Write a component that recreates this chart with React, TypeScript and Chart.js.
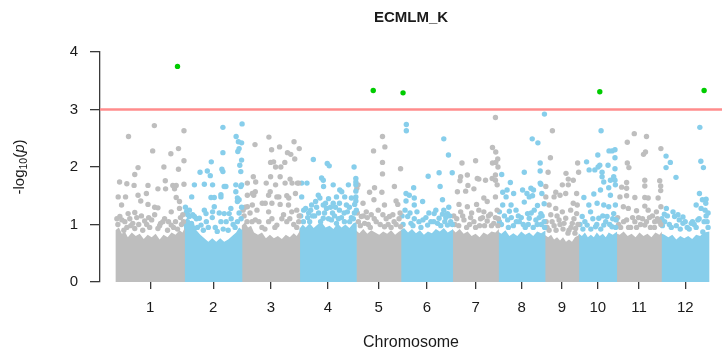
import React, { useEffect, useRef } from "react";
import { Chart, registerables } from "chart.js";

Chart.register(...registerables);

// ---------- text ----------
const chartTitle = "ECMLM_K";
const xAxisTitle = "Chromosome";

// ---------- axes ----------
const chromosomeLabels = ["1", "2", "3", "4", "5", "6", "7", "8", "9", "10", "11", "12"];
const chromosomeLengths = [69, 58, 58, 57, 45, 52, 46, 47, 34, 38, 45, 48];
const yTickValues = [0, 1, 2, 3, 4];
const xAxisMin = -16;
const xAxisMax = 610;
const yAxisMin = 0;
const yAxisMax = 4;
const thresholdValue = 3;

// ---------- significant SNPs (above threshold) ----------
const sigChromosome = [1, 5, 6, 10, 12];
const sigPosition = [62, 17, 2, 21, 43];
const sigLogP = [3.75, 3.33, 3.29, 3.31, 3.33];

// ---------- SNPs: [position within chromosome, -log10(p)] ----------
const chr1Points = [
  [12.7, 2.53], [38.7, 2.72], [68.5, 2.63], [37, 2.28], [55.3, 2.23], [63, 2.32], [19, 1.87], [22.3, 1.99],
  [48.3, 2.0], [63, 1.96], [68.5, 2.11], [3.7, 1.74], [11, 1.71], [18.3, 1.68], [32.3, 1.68], [49.7, 1.76],
  [57.3, 1.68], [60.7, 1.68], [68.5, 1.7], [2.3, 1.48], [9.7, 1.48], [22.3, 1.51], [30.7, 1.54], [42.3, 1.62],
  [50, 1.62], [59, 1.62], [60.7, 1.47], [64, 1.4], [25, 1.41], [32.3, 1.35], [39, 1.3], [42.3, 1.29],
  [4, 1.14], [12.3, 1.19], [19, 1.21], [25.7, 1.15], [9, 1.05], [29, 1.06], [39, 1.17], [47.3, 1.05],
  [55.7, 1.22], [64, 1.28], [67.3, 1.17], [19, 0.93], [42.3, 0.93], [55.7, 0.99], [5.7, 1.34], [2, 1.0],
  [15, 0.98], [34, 0.95], [45, 1.02], [52, 0.9], [60, 1.05], [66, 1.0], [8, 0.9], [27, 0.9], [62, 0.92],
  [1, 1.1], [6, 1.08], [11, 0.95], [14, 1.1], [17, 1.02], [23, 1.0], [31, 1.0], [36, 1.08],
  [44, 0.98], [49, 1.1], [53, 1.05], [58, 0.95], [65, 1.12], [68, 1.05], [21, 1.12], [33, 1.12],
];
const chr2Points = [
  [38.7, 2.69], [58, 2.75], [52, 2.53], [54.3, 2.44], [57.5, 2.42], [38.7, 2.25], [53.7, 2.27], [55, 2.32],
  [27, 2.09], [57.5, 2.12], [55.7, 2.03], [15.7, 1.91], [23, 1.93], [26, 1.85], [37.7, 1.96], [38.7, 1.92],
  [56.7, 1.92], [10, 1.69], [20, 1.7], [40, 1.66], [51.7, 1.69], [56.7, 1.66], [7.3, 1.48], [26.7, 1.47],
  [30, 1.47], [36.7, 1.52], [51.7, 1.57], [53.3, 1.46], [20, 1.25], [30, 1.31], [40, 1.19], [46.7, 1.28],
  [8.3, 1.17], [3.3, 1.17], [16.7, 0.99], [36.7, 1.05], [53.3, 1.05], [2, 1.22], [5, 1.25], [12, 1.1],
  [24, 0.95], [44, 0.9], [49, 1.0], [57, 1.1], [33, 0.88], [28, 1.12], [28.3, 1.69], [41.7, 1.66],
  [57.5, 1.69], [36.7, 1.48], [53.3, 1.4], [55, 1.43], [5, 1.14], [10, 1.14], [15, 1.11], [21.7, 1.19],
  [28.3, 1.22], [45, 1.19], [1, 1.3], [3, 1.05], [7, 1.02], [13, 0.95], [19, 0.9], [22, 1.05],
  [31, 0.95], [35, 1.2], [39, 0.92], [42, 1.05], [47, 1.1], [51, 0.95], [55, 1.2], [57.5, 1.3],
];
const chr3Points = [
  [13, 2.39], [27, 2.52], [29.7, 2.3], [37.7, 2.35], [52.3, 2.44], [57.5, 2.32], [45.7, 2.25], [49, 2.22],
  [53, 2.14], [28.7, 2.08], [33.7, 2.0], [39, 2.0], [43, 2.08], [31.7, 2.09], [11.3, 1.83], [28.7, 1.83],
  [38.3, 1.83], [48.3, 1.79], [55.7, 1.72], [24.3, 1.72], [43.3, 1.72], [13.3, 1.57], [11.7, 1.51], [28.3, 1.57],
  [26.7, 1.51], [35, 1.48], [45, 1.5], [23.3, 1.37], [30, 1.37], [38.3, 1.35], [46.7, 1.34], [15, 1.25],
  [26.7, 1.22], [41.7, 1.17], [50, 1.22], [55, 1.25], [13.3, 1.08], [26.7, 1.05], [35, 0.99], [45, 1.05],
  [2, 1.15], [5, 1.05], [8, 1.2], [20, 0.95], [52, 1.0], [57, 1.05], [5.3, 1.72], [13.7, 1.74],
  [5.3, 1.51], [10.3, 1.54], [5.3, 1.31], [10.3, 1.34], [20.3, 1.37], [33.7, 1.69], [50.3, 1.72], [57, 1.72],
  [37, 1.48], [47, 1.46], [53.7, 1.54], [1, 1.25], [3, 1.3], [10, 1.05], [17, 1.05], [23, 0.92],
  [30, 1.1], [33, 0.95], [40, 1.1], [48, 1.1], [55, 0.95], [57.5, 1.15],
];
const chr4Points = [
  [13.7, 2.13], [27.7, 2.06], [29.7, 2.02], [54.7, 2.0], [22, 1.81], [23.7, 1.77], [56.5, 1.8], [2, 1.72],
  [33.7, 1.69], [40.3, 1.6], [56.5, 1.69], [56.5, 1.58], [56.5, 1.74], [2, 1.48], [18.7, 1.51], [20.3, 1.46],
  [37, 1.48], [45.3, 1.48], [52, 1.46], [56.5, 1.48], [56.5, 1.41], [12, 1.34], [23.7, 1.34], [33.7, 1.37],
  [47, 1.34], [55.3, 1.35], [9, 1.2], [19, 1.2], [33, 1.2], [44.7, 1.2], [55, 1.2], [3.7, 1.05],
  [23.7, 1.11], [37, 1.02], [50.3, 1.05], [6, 1.28], [15, 1.15], [27, 1.28], [29, 1.1], [40, 1.25],
  [42, 1.12], [48, 1.22], [52, 1.12], [8, 1.12], [31, 1.3], [11, 1.25], [36, 1.3], [7.3, 1.72],
  [24, 1.66], [42.3, 1.57], [49, 1.69], [26, 1.37], [40, 1.37], [1, 1.15], [4, 1.25], [10, 1.05],
  [13, 1.15], [17, 1.3], [21, 1.05], [25, 1.2], [32, 1.08], [35, 1.15], [39, 1.1], [45, 1.05],
  [50, 1.3], [54, 1.1], [57, 1.25], [16, 1.4], [29, 1.45],
];
const chr5Points = [
  [26.3, 2.53], [28.7, 2.35], [17.3, 2.28], [26.3, 2.08], [44.5, 1.97], [26.3, 1.88], [18.3, 1.64], [13.3, 1.56],
  [38.3, 1.66], [25.7, 1.56], [1.7, 1.69], [0.5, 1.63], [6.7, 1.37], [17.7, 1.43], [28.3, 1.34], [40, 1.41],
  [41.7, 1.35], [10, 1.22], [5, 1.14], [15, 1.17], [26.7, 1.17], [33.3, 1.14], [36.7, 1.17], [44.5, 0.96],
  [8.3, 1.02], [28.3, 0.96], [2, 1.05], [12, 1.0], [20, 1.05], [32, 1.0], [38, 1.05], [43, 1.1], [22, 1.25],
  [1, 1.2], [4, 0.98], [7, 1.15], [11, 1.12], [14, 0.95], [18, 1.1], [24, 1.0], [30, 1.1],
  [35, 0.95], [40, 1.0], [44, 1.2],
];
const chr6Points = [
  [5.3, 2.74], [5.3, 2.63], [43, 2.49], [47.7, 2.21], [27.3, 1.84], [38.3, 1.9], [51.5, 1.9], [39.3, 1.66],
  [12.7, 1.64], [5, 1.54], [8.3, 1.51], [13.3, 1.46], [5, 1.41], [13.3, 1.34], [21.7, 1.4], [33.3, 1.19],
  [41.7, 1.18], [46.7, 1.19], [38.3, 1.11], [6.7, 1.14], [13.3, 1.1], [10, 1.02], [26.7, 0.99], [36.7, 1.02],
  [46.7, 0.99], [2, 1.0], [18, 1.05], [22, 1.08], [30, 1.05], [44, 1.05], [50, 1.05], [16, 1.22],
  [35, 1.25], [48, 1.3], [41.7, 1.43], [45, 1.12], [1, 1.15], [4, 1.25], [9, 1.2], [12, 0.98],
  [20, 0.95], [25, 1.12], [28, 1.2], [33, 1.05], [40, 0.98], [43, 1.25], [49, 1.15], [51.5, 1.0],
];
const chr7Points = [
  [43, 2.86], [9.3, 2.07], [23, 2.11], [40, 2.34], [43.3, 2.26], [45.3, 2.14], [40, 2.07], [43.3, 2.08],
  [45.5, 2.0], [7.3, 1.76], [15.3, 1.68], [26.3, 1.79], [43, 1.77], [4.7, 1.57], [13, 1.58], [21.3, 1.62],
  [31.3, 1.46], [34.7, 1.4], [43, 1.48], [44.7, 1.69], [6.3, 1.35], [14.7, 1.31], [8, 1.22], [26.3, 1.25],
  [31.3, 1.22], [38, 1.18], [44.7, 1.25], [11.3, 1.08], [21.3, 1.05], [34.7, 1.06], [41.3, 1.02], [2, 1.0],
  [17, 1.0], [28, 1.1], [32, 0.98], [46, 1.1], [19, 1.2], [24, 1.35], [8, 1.83], [14.7, 1.86],
  [24.7, 1.8], [33, 1.77], [39.7, 1.8], [43, 1.86], [1, 1.15], [4, 1.1], [6, 0.98], [10, 1.15],
  [14, 0.95], [18, 1.12], [23, 0.95], [27, 0.98], [30, 1.12], [36, 1.15], [39, 0.98], [43, 1.12], [45.5, 0.98],
];
const chr8Points = [
  [46.3, 2.92], [34, 2.49], [39.7, 2.42], [3.3, 1.87], [26, 1.91], [42, 2.07], [42, 1.93], [12, 1.73],
  [42.7, 1.7], [4.3, 1.56], [7.7, 1.48], [24.3, 1.6], [32.7, 1.63], [31, 1.48], [34.3, 1.5], [4.3, 1.34],
  [12.7, 1.34], [26, 1.39], [39.3, 1.33], [46, 1.36], [11, 1.23], [17.7, 1.25], [29.3, 1.19], [42.7, 1.19],
  [1, 1.22], [9.3, 1.08], [21, 1.05], [31, 1.11], [37.7, 1.08], [46, 1.05], [3, 1.0], [15, 0.98],
  [25, 1.0], [35, 0.95], [43, 1.0], [20, 1.15], [36, 1.25], [8.7, 1.6], [15.3, 1.54], [28.7, 1.54],
  [35.3, 1.6], [42, 1.72], [43.7, 1.54], [1, 1.05], [6, 1.15], [10, 0.95], [13, 1.12], [18, 1.05],
  [23, 1.12], [27, 0.95], [30, 1.0], [33, 1.2], [39, 1.0], [41, 1.12], [44, 1.15], [46.5, 0.95],
];
const chr9Points = [
  [7.3, 2.63], [5.3, 2.16], [3, 1.91], [21, 1.89], [23.3, 1.79], [32.7, 2.07], [33.7, 1.91], [0.7, 1.66],
  [10.7, 1.56], [17.3, 1.69], [20.7, 1.54], [9, 1.48], [0.7, 1.48], [4, 1.34], [10.7, 1.28], [17.3, 1.22],
  [25.7, 1.25], [32.3, 1.34], [31.7, 1.19], [5.7, 1.17], [14, 1.08], [20.7, 1.11], [27.3, 1.02], [24, 0.9],
  [30.7, 0.93], [2, 0.95], [9, 0.98], [18, 0.92], [12, 1.15], [29, 1.1], [15, 1.51], [28.3, 1.37],
  [31.7, 1.54], [28.3, 1.77], [23.3, 1.69], [1, 1.05], [4, 0.9], [7, 1.05], [11, 0.9], [15, 1.0],
  [19, 1.02], [23, 0.85], [26, 0.95], [30, 0.85], [33, 1.0],
];
const chr10Points = [
  [22.3, 2.63], [7.7, 2.09], [19, 2.21], [30.3, 2.28], [33.3, 2.28], [36.3, 2.16], [21, 2.03], [29.3, 2.03],
  [19.3, 2.0], [10.3, 1.95], [16, 1.95], [23.3, 1.91], [36.3, 1.97], [23.3, 1.83], [25, 1.74], [31.7, 1.77],
  [35, 1.83], [5, 1.47], [15, 1.53], [21.7, 1.6], [30, 1.64], [31.7, 1.51], [36.7, 1.69], [10, 1.34],
  [18.3, 1.37], [25, 1.34], [30, 1.31], [36.7, 1.34], [3.3, 1.14], [11.7, 1.22], [20, 1.11], [28.3, 1.14],
  [35, 1.19], [37.5, 1.08], [8.3, 0.99], [16.7, 0.96], [25, 0.99], [33.3, 0.96], [36.3, 2.3], [36.3, 1.77],
  [1, 1.0], [4, 0.92], [6, 1.05], [12, 0.92], [14, 1.1], [18, 1.0], [22, 0.92], [24, 1.15],
  [27, 1.05], [31, 1.0], [34, 1.1], [37, 0.95],
];
const chr11Points = [
  [10.7, 2.43], [17.7, 2.58], [30, 2.53], [29, 2.26], [27, 2.22], [10.7, 2.07], [12.3, 1.99], [44.5, 2.32],
  [28.3, 1.77], [28.3, 1.67], [43.3, 1.76], [44.3, 1.67], [44.3, 1.59], [10, 1.73], [5, 1.65], [10, 1.63],
  [3.3, 1.48], [10, 1.5], [18.3, 1.47], [28.3, 1.47], [31.7, 1.46], [41.7, 1.46], [6.7, 1.31], [11.7, 1.28],
  [20, 1.24], [28.3, 1.32], [31.7, 1.25], [40, 1.22], [44.5, 1.31], [10, 1.08], [18.3, 1.05], [28.3, 0.99],
  [38.3, 1.05], [2, 1.0], [14, 0.95], [24, 1.0], [34, 0.95], [43, 1.05], [22, 1.12], [36, 1.15],
  [1, 1.12], [4, 0.95], [7, 1.05], [12, 0.95], [16, 1.12], [20, 0.95], [26, 1.1], [30, 1.05],
  [33, 1.12], [38, 0.95], [41, 1.1], [44.5, 1.0],
];
const chr12Points = [
  [38.7, 2.69], [4.7, 2.19], [9, 2.08], [4.7, 1.99], [14.7, 1.82], [39.7, 2.1], [42.3, 1.99], [38.3, 1.54],
  [45, 1.44], [35, 1.34], [40, 1.28], [45, 1.15], [5, 1.28], [11.7, 1.22], [16.7, 1.17], [21.7, 1.13],
  [3.3, 1.05], [13.3, 1.14], [21.7, 1.02], [30, 1.02], [36.7, 1.08], [41.7, 0.87], [8, 1.0], [26, 0.95],
  [33, 1.0], [46, 1.05], [44, 1.25], [0.5, 1.1], [47, 0.95], [41.3, 1.43], [44.7, 1.37], [31.3, 1.05],
  [18, 1.08], [1, 0.98], [3, 1.18], [6, 1.15], [10, 0.95], [15, 0.98], [19, 0.92], [24, 1.05],
  [28, 0.92], [35, 0.95], [38, 1.1], [43, 1.05], [47, 1.2],
];

// ---------- upper edge of the solid cloud of overlapping low -log10(p) SNPs ----------
const chr1Cloud = [[-0.5, 0.9], [3, 0.95], [6, 0.84], [9, 0.88], [12, 0.78], [16, 0.86], [20, 0.8], [24, 0.84], [28, 0.75], [32, 0.82], [36, 0.78], [40, 0.84], [44, 0.74], [48, 0.82], [52, 0.78], [56, 0.86], [60, 0.82], [64, 0.9], [67, 0.86], [69.5, 0.95]];
const chr2Cloud = [[-0.5, 1.05], [3, 1.12], [6, 1.0], [9, 1.05], [12, 0.9], [16, 0.82], [20, 0.76], [24, 0.7], [28, 0.76], [32, 0.7], [36, 0.76], [40, 0.7], [44, 0.74], [48, 0.8], [52, 0.86], [55, 0.95], [58.5, 0.9]];
const chr3Cloud = [[-0.5, 0.98], [3, 1.04], [6, 0.95], [9, 0.98], [12, 0.86], [16, 0.82], [20, 0.86], [24, 0.76], [28, 0.82], [32, 0.76], [36, 0.8], [40, 0.75], [44, 0.82], [48, 0.78], [52, 0.85], [55, 0.8], [58.5, 0.9]];
const chr4Cloud = [[-0.5, 0.92], [3, 1.0], [6, 0.95], [10, 1.02], [14, 0.94], [18, 1.0], [22, 1.04], [26, 0.95], [30, 0.98], [34, 0.92], [38, 1.02], [42, 0.95], [46, 1.0], [50, 0.94], [54, 1.02], [57.5, 1.05]];
const chr5Cloud = [[-0.5, 0.9], [3, 0.85], [7, 0.92], [11, 0.84], [15, 0.9], [19, 0.86], [23, 0.82], [27, 0.88], [31, 0.84], [35, 0.9], [39, 0.82], [43, 0.88], [45.5, 0.9]];
const chr6Cloud = [[-0.5, 0.9], [3, 0.94], [7, 0.86], [11, 0.92], [15, 0.85], [19, 0.9], [23, 0.82], [27, 0.88], [31, 0.85], [35, 0.92], [39, 0.88], [43, 0.94], [47, 0.86], [52.5, 0.92]];
const chr7Cloud = [[-0.5, 0.92], [3, 0.86], [7, 0.92], [11, 0.84], [15, 0.88], [19, 0.8], [23, 0.84], [27, 0.78], [31, 0.86], [35, 0.82], [39, 0.88], [43, 0.86], [46.5, 0.92]];
const chr8Cloud = [[-0.5, 0.88], [3, 0.84], [7, 0.9], [11, 0.8], [15, 0.85], [19, 0.8], [23, 0.88], [27, 0.82], [31, 0.86], [35, 0.8], [39, 0.88], [43, 0.85], [47.5, 0.9]];
const chr9Cloud = [[-0.5, 0.82], [3, 0.78], [6, 0.82], [9, 0.74], [12, 0.78], [15, 0.72], [18, 0.78], [21, 0.7], [24, 0.74], [27, 0.7], [30, 0.78], [34.5, 0.82]];
const chr10Cloud = [[-0.5, 0.85], [3, 0.8], [6, 0.86], [9, 0.78], [12, 0.82], [15, 0.78], [18, 0.86], [21, 0.8], [24, 0.84], [27, 0.78], [30, 0.86], [34, 0.82], [38.5, 0.88]];
const chr11Cloud = [[-0.5, 0.85], [3, 0.82], [7, 0.88], [11, 0.8], [15, 0.84], [19, 0.78], [23, 0.86], [27, 0.8], [31, 0.84], [35, 0.78], [39, 0.86], [43, 0.82], [45.5, 0.88]];
const chr12Cloud = [[-0.5, 0.85], [3, 0.82], [7, 0.78], [11, 0.82], [15, 0.74], [19, 0.8], [23, 0.76], [27, 0.8], [31, 0.75], [35, 0.82], [39, 0.8], [43, 0.86], [48.5, 0.88]];

const chromosomePoints = [chr1Points, chr2Points, chr3Points, chr4Points, chr5Points, chr6Points, chr7Points, chr8Points, chr9Points, chr10Points, chr11Points, chr12Points];
const chromosomeClouds = [chr1Cloud, chr2Cloud, chr3Cloud, chr4Cloud, chr5Cloud, chr6Cloud, chr7Cloud, chr8Cloud, chr9Cloud, chr10Cloud, chr11Cloud, chr12Cloud];

// ---------- styles ----------
const FONT = '"Liberation Sans", Arial, Helvetica, sans-serif';
const GRAY = "#bebebe";
const BLUE = "#87ceeb";
const GREEN = "#00cc00";
const RED = "#ff8c8c";
const INK = "#1a1a1a";
const AXIS = "#3a3a3a";

const chromosomeStarts: number[] = [];
chromosomeLengths.forEach((len, i) => {
  chromosomeStarts.push(i === 0 ? 0 : chromosomeStarts[i - 1] + chromosomeLengths[i - 1]);
});
const chromosomeCenters = chromosomeLengths.map((len, i) => chromosomeStarts[i] + len / 2);

const textPlugin = {
  id: "manhattanText",
  afterDraw(chart: any) {
    const { ctx, chartArea } = chart;
    const cx = (chartArea.left + chartArea.right) / 2;
    const cy = (chartArea.top + chartArea.bottom) / 2;
    ctx.save();
    ctx.fillStyle = INK;
    ctx.textAlign = "center";
    ctx.textBaseline = "middle";
    ctx.font = `bold 15px ${FONT}`;
    ctx.fillText(chartTitle, cx, 18);
    ctx.font = `16px ${FONT}`;
    ctx.fillText(xAxisTitle, cx, 343);

    // y title: -log10(p), rotated
    const parts = [
      { t: "-log", f: `15px ${FONT}`, dy: 0 },
      { t: "10", f: `10.5px ${FONT}`, dy: 3.5 },
      { t: "(", f: `15px ${FONT}`, dy: 0 },
      { t: "p", f: `italic 15px ${FONT}`, dy: 0 },
      { t: ")", f: `15px ${FONT}`, dy: 0 },
    ];
    let total = 0;
    const widths = parts.map((p) => {
      ctx.font = p.f;
      const w = ctx.measureText(p.t).width;
      total += w;
      return w;
    });
    ctx.translate(23.5, cy);
    ctx.rotate(-Math.PI / 2);
    ctx.textAlign = "left";
    ctx.textBaseline = "alphabetic";
    let x = -total / 2;
    parts.forEach((p, i) => {
      ctx.font = p.f;
      ctx.fillText(p.t, x, p.dy);
      x += widths[i];
    });
    ctx.restore();
  },
};

export default function App() {
  const canvasRef = useRef<HTMLCanvasElement | null>(null);

  useEffect(() => {
    const canvas = canvasRef.current;
    if (!canvas) return;

    const datasets: any[] = [];

    // significant points (top)
    datasets.push({
      type: "scatter",
      data: sigChromosome.map((c, i) => ({ x: chromosomeStarts[c - 1] + sigPosition[i], y: sigLogP[i] })),
      pointRadius: 2.7,
      pointBackgroundColor: GREEN,
      pointBorderWidth: 0,
      pointBorderColor: GREEN,
      order: 0,
      clip: false,
    });

    // threshold line
    datasets.push({
      type: "line",
      data: [
        { x: xAxisMin, y: thresholdValue },
        { x: xAxisMax, y: thresholdValue },
      ],
      borderColor: RED,
      borderWidth: 2.4,
      pointRadius: 0,
      fill: false,
      order: 1,
    });

    chromosomePoints.forEach((pts, i) => {
      const color = i % 2 === 0 ? GRAY : BLUE;
      datasets.push({
        type: "scatter",
        data: pts.map(([p, v]) => ({ x: chromosomeStarts[i] + p, y: v })),
        pointRadius: 2.7,
        pointBackgroundColor: color,
        pointBorderColor: color,
        pointBorderWidth: 0,
        order: 2,
        clip: false,
      });
    });

    chromosomeClouds.forEach((cloud, i) => {
      const color = i % 2 === 0 ? GRAY : BLUE;
      datasets.push({
        type: "line",
        data: cloud.map(([p, v]) => ({ x: chromosomeStarts[i] + p, y: v })),
        fill: "origin",
        backgroundColor: color,
        borderColor: "rgba(0,0,0,0)",
        borderWidth: 0,
        pointRadius: 0,
        tension: 0,
        order: 3,
      });
    });

    const chart = new Chart(canvas, {
      type: "scatter",
      data: { datasets },
      options: {
        responsive: false,
        animation: false,
        devicePixelRatio: 1,
        events: [],
        layout: { padding: { top: 52, left: 0, right: 0, bottom: 0 } },
        plugins: {
          legend: { display: false },
          tooltip: { enabled: false },
          title: { display: false },
        },
        scales: {
          x: {
            type: "linear",
            min: xAxisMin,
            max: xAxisMax,
            afterBuildTicks: (scale: any) => {
              scale.ticks = chromosomeCenters.map((v) => ({ value: v }));
            },
            afterFit: (scale: any) => {
              scale.height = 74;
            },
            ticks: {
              autoSkip: false,
              maxRotation: 0,
              padding: 10,
              color: INK,
              font: { family: FONT, size: 15 },
              callback: (_v: any, index: number) => chromosomeLabels[index],
            },
            grid: {
              display: true,
              drawOnChartArea: false,
              drawTicks: true,
              tickLength: 7,
              color: AXIS,
              lineWidth: 1.3,
            },
            border: { display: false },
          },
          y: {
            type: "linear",
            min: yAxisMin,
            max: yAxisMax,
            afterBuildTicks: (scale: any) => {
              scale.ticks = yTickValues.map((v) => ({ value: v }));
            },
            afterFit: (scale: any) => {
              scale.width = 100;
            },
            ticks: {
              padding: 12,
              color: INK,
              font: { family: FONT, size: 15 },
              callback: (v: any) => String(v),
            },
            grid: {
              display: true,
              drawOnChartArea: false,
              drawTicks: true,
              tickLength: 10,
              color: AXIS,
              lineWidth: 1.3,
            },
            border: { display: true, color: AXIS, width: 1.3 },
          },
        },
      },
      plugins: [textPlugin],
    } as any);

    return () => chart.destroy();
  }, []);

  return (
    <div style={{ position: "absolute", left: 0, top: 0, width: 726, height: 356, background: "#fff" }}>
      <canvas ref={canvasRef} width={726} height={356} style={{ display: "block" }} />
    </div>
  );
}
